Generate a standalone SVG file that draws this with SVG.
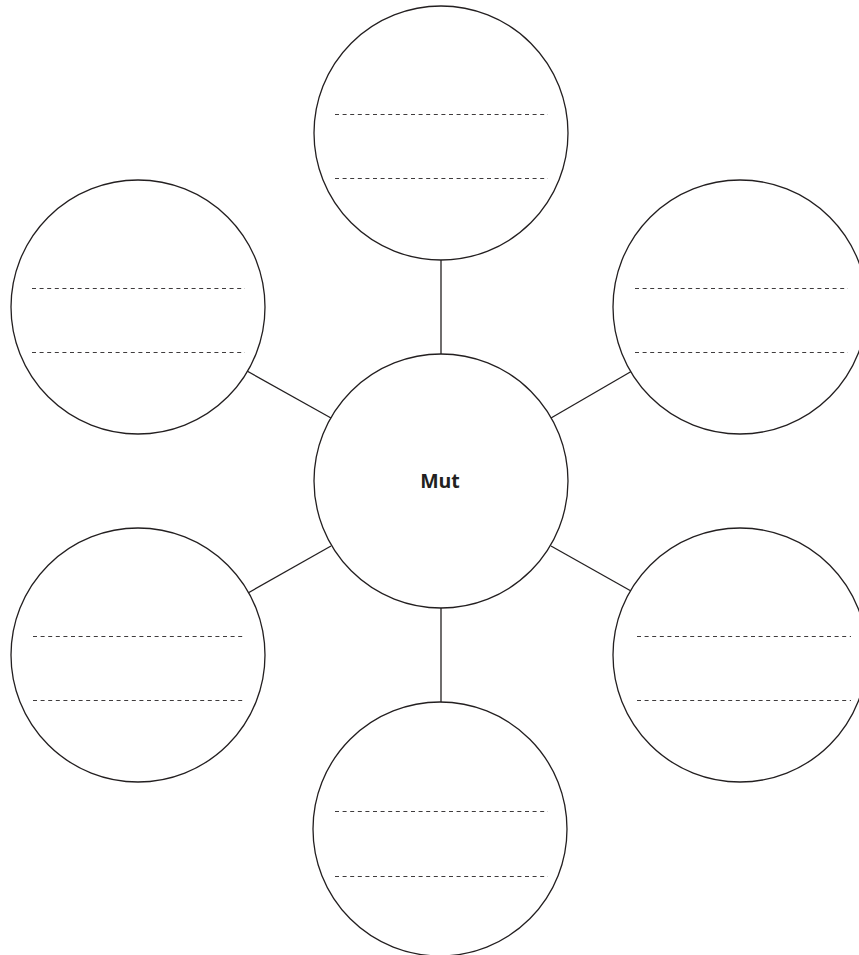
<svg xmlns="http://www.w3.org/2000/svg" width="859" height="955" viewBox="0 0 859 955">
<style>
.c{fill:#fff;stroke:#231f20;stroke-width:1.3}
.d{stroke:#3f3c3d;stroke-width:1;stroke-dasharray:4 3.6;fill:none}
.l{stroke:#231f20;stroke-width:1.3;fill:none}
.t{font-family:"Open Sans","Noto Sans",sans-serif;font-weight:bold;font-size:19.5px;fill:#231f20}
</style>
<rect width="859" height="955" fill="#fff"/>
<g id="connectors">
<line class="l" x1="441" y1="260" x2="441" y2="354"/>
<line class="l" x1="441" y1="608" x2="441" y2="703"/>
<line class="l" x1="247" y1="371" x2="331" y2="418"/>
<line class="l" x1="248" y1="593" x2="331" y2="546"/>
<line class="l" x1="632" y1="371" x2="551" y2="418"/>
<line class="l" x1="631" y1="591" x2="551" y2="546"/>
</g>
<g id="center">
<circle class="c" cx="441" cy="481" r="127"/>
<text class="t" x="440" y="488" text-anchor="middle">Mut</text>
</g>
<g id="top">
<circle class="c" cx="441" cy="133" r="127"/>
<line class="d" x1="335" y1="114.5" x2="548" y2="114.5"/>
<line class="d" x1="335" y1="178.5" x2="548" y2="178.5"/>
</g>
<g id="upper-left">
<circle class="c" cx="138" cy="307" r="127"/>
<line class="d" x1="32" y1="288.5" x2="245" y2="288.5"/>
<line class="d" x1="32" y1="352.5" x2="245" y2="352.5"/>
</g>
<g id="upper-right">
<circle class="c" cx="740" cy="307" r="127"/>
<line class="d" x1="635" y1="288.5" x2="848" y2="288.5"/>
<line class="d" x1="635" y1="352.5" x2="848" y2="352.5"/>
</g>
<g id="lower-left">
<circle class="c" cx="138" cy="655" r="127"/>
<line class="d" x1="33" y1="636.5" x2="245" y2="636.5"/>
<line class="d" x1="33" y1="700.5" x2="245" y2="700.5"/>
</g>
<g id="lower-right">
<circle class="c" cx="740" cy="655" r="127"/>
<line class="d" x1="637" y1="636.5" x2="851" y2="636.5"/>
<line class="d" x1="637" y1="700.5" x2="851" y2="700.5"/>
</g>
<g id="bottom">
<circle class="c" cx="440" cy="829" r="127"/>
<line class="d" x1="335" y1="811.5" x2="548" y2="811.5"/>
<line class="d" x1="335" y1="876.5" x2="548" y2="876.5"/>
</g>
</svg>
